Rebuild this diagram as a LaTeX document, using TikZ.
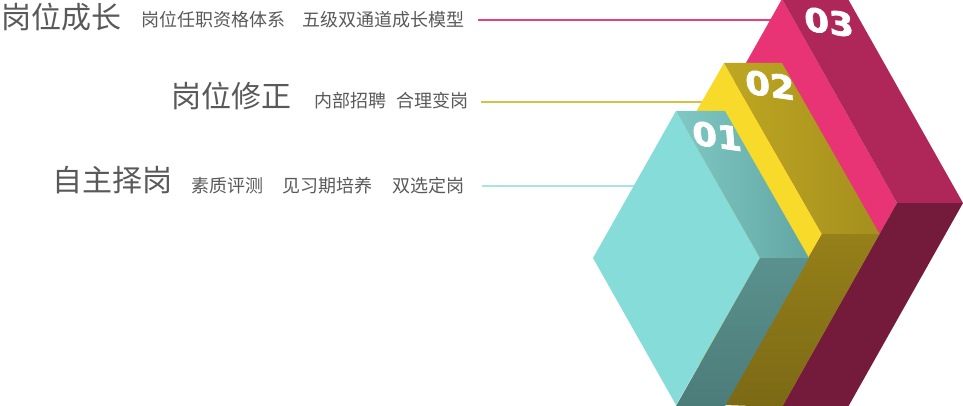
\documentclass[tikz,border=0pt]{standalone}
\usepackage{fontspec}
\newfontfamily\cjk{Noto Sans CJK SC}
\newfontfamily\numfont[BoldFeatures={FakeBold=2}]{DejaVu Sans}
\definecolor{txt}{HTML}{595959}
\definecolor{cyF}{HTML}{86DCD9}
\definecolor{cyTa}{HTML}{7FC8C4}
\definecolor{cyTb}{HTML}{62A6A3}
\definecolor{cySa}{HTML}{5A918E}
\definecolor{cySb}{HTML}{4C7C79}
\definecolor{yeF}{HTML}{F8DB2A}
\definecolor{yeTa}{HTML}{BEA721}
\definecolor{yeTb}{HTML}{A58F1E}
\definecolor{yeSa}{HTML}{958019}
\definecolor{yeSb}{HTML}{7C6915}
\definecolor{piF}{HTML}{E83474}
\definecolor{piT}{HTML}{AF2658}
\definecolor{piS}{HTML}{741A3A}
\definecolor{piL}{HTML}{E8417A}
\definecolor{yeL}{HTML}{D6C148}
\definecolor{cyL}{HTML}{A8E4E2}
\tikzset{
  title/.style={font=\cjk\fontsize{30}{30}\selectfont, anchor=west, inner sep=0pt, text=txt},
  sub/.style={font=\cjk\fontsize{18}{18}\selectfont, anchor=west, inner sep=0pt, text=txt},
  num/.style={font=\numfont\bfseries\fontsize{32}{32}\selectfont, text=white, inner sep=0pt, rotate=-8, xslant=-0.22, xscale=1.12},
  lead/.style={line width=1.2pt}
}
\begin{document}
\begin{tikzpicture}[x=1pt,y=-1pt]
\useasboundingbox (0,0) rectangle (963,406);
\clip (0,0) rectangle (963,406);
% leader lines
\coordinate (p1s) at (478,20);  \coordinate (p1e) at (775,20);
\coordinate (p2s) at (481,102); \coordinate (p2e) at (705,102);
\coordinate (p3s) at (482,186); \coordinate (p3e) at (637,186);
\draw[lead, draw=piL] (p1s) -- (p1e);
\draw[lead, draw=yeL] (p2s) -- (p2e);
\draw[lead, draw=cyL] (p3s) -- (p3e);
% block 03 (pink)
\fill[piF] (667,203) -- (782,-1) -- (897,203) -- (782,407) -- cycle;
\fill[piT] (782,-1) -- (848,-1) -- (963,203) -- (897,203) -- cycle;
\fill[piS] (897,203) -- (963,203) -- (848,407) -- (782,407) -- cycle;
% block 02 (yellow)
\fill[yeF] (626,234) -- (724,63) -- (822,234) -- (724,405) -- cycle;
\shade[left color=yeTa, right color=yeTb] (724,63) -- (782,63) -- (879.5,234) -- (822,234) -- cycle;
\shade[top color=yeSa, bottom color=yeSb] (822,234) -- (879.5,234) -- (782,407) -- (724,405) -- cycle;
% block 01 (cyan)
\fill[cyF] (593,258) -- (676,111) -- (760,258) -- (676,405) -- cycle;
\shade[left color=cyTa, right color=cyTb] (676,111) -- (725,111) -- (809,258) -- (760,258) -- cycle;
\shade[top color=cySa, bottom color=cySb] (760,258) -- (809,258) -- (725,406) -- (676,406) -- cycle;
% numbers
\node[num] (n3) at (829,22) {03};
\node[num] (n2) at (770,85) {02};
\node[num] (n1) at (717,136) {01};
% texts
\node[title] (t1) at (1,17) {岗位成长};
\node[sub] (s11) at (141,20) {岗位任职资格体系};
\node[sub] (s12) at (302,20) {五级双通道成长模型};
\node[title] (t2) at (171,96) {岗位修正};
\node[sub] (s21) at (314,101) {内部招聘};
\node[sub] (s22) at (396,101) {合理变岗};
\node[title] (t3) at (52,180) {自主择岗};
\node[sub] (s31) at (191,186) {素质评测};
\node[sub] (s32) at (282,186) {见习期培养};
\node[sub] (s33) at (392,186) {双选定岗};
\end{tikzpicture}
\end{document}
